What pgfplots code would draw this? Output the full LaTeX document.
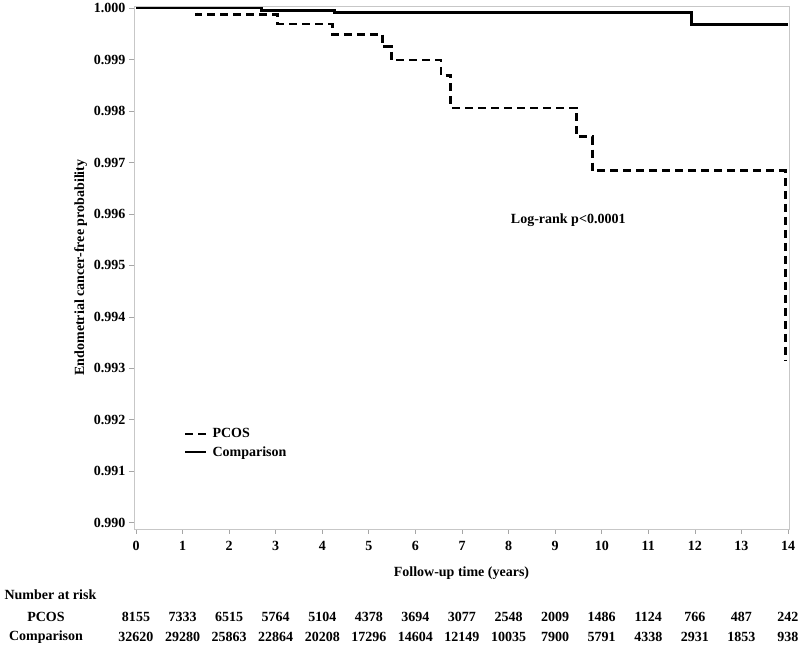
\documentclass[border=0pt]{standalone}
\usepackage{fontspec}
\setmainfont{Liberation Serif}
\usepackage{pgfplots}
\pgfplotsset{compat=1.18}
\begin{document}
\begin{tikzpicture}[font=\fontsize{14}{16}\selectfont\bfseries]
\useasboundingbox (-134pt,-118pt) rectangle (666pt,529pt);
\begin{axis}[at={(0pt,0pt)}, anchor=south west, scale only axis,
  width=655pt, height=523pt,
  xmin=-0.043, xmax=14.02, ymin=0.98988, ymax=1.00004,
  xtick={0,1,2,3,4,5,6,7,8,9,10,11,12,13,14},
  ytick={0.990,0.991,0.992,0.993,0.994,0.995,0.996,0.997,0.998,0.999,1.000},
  axis line style={draw=black!22, line width=0.8pt},
  tick style={draw=black!35, line width=0.8pt},
  tick align=outside, major tick length=5pt,
  xtick pos=bottom, ytick pos=left,
  scaled y ticks=false, scaled x ticks=false,
  yticklabel style={/pgf/number format/.cd, fixed, fixed zerofill, precision=3, assume math mode=true},
  xticklabel style={/pgf/number format/assume math mode=true, yshift=-4pt},
  xlabel={Follow-up time (years)},
  xlabel style={yshift=-9pt},
  ylabel={Endometrial cancer-free probability},
  legend style={draw=none, fill=none, at={(axis cs:1.02,0.99155)}, anchor=west, inner xsep=0pt, row sep=3pt,
    font=\fontsize{14}{16}\selectfont\bfseries},
  legend cell align=left,
  legend image code/.code={\draw[#1] (0pt,0pt) -- (21pt,0pt);},
  legend style={nodes={inner xsep=5pt}},
]
\addplot[const plot, black, line width=2.8pt, dash pattern=on 8pt off 5pt] coordinates {
 (0,1.0) (1.30,0.99987) (3.04,0.99969) (4.22,0.99949) (5.29,0.99925) (5.48,0.99899)
 (6.55,0.99869) (6.76,0.99806) (9.46,0.99750) (9.80,0.99684) (13.94,0.99314)
};
\addlegendentry{PCOS}
\addplot[const plot, black, line width=2.8pt] coordinates {
 (0,1.0) (2.70,0.99996) (4.26,0.99992) (11.92,0.99968) (14.0,0.99968)
};
\addlegendentry{Comparison}
\node at (axis cs:9.28,0.99588) {Log-rank p<0.0001};
\end{axis}
\node[anchor=west] at (-133pt,-66pt) {Number at risk};
\node at (-88pt,-88pt) {PCOS};
\node at (-88pt,-108pt) {Comparison};
\foreach \n [count=\i from 0] in {8155,7333,6515,5764,5104,4378,3694,3077,2548,2009,1486,1124,766,487,242}
  \node at ({2pt+\i*46.57pt},-88pt) {\n};
\foreach \n [count=\i from 0] in {32620,29280,25863,22864,20208,17296,14604,12149,10035,7900,5791,4338,2931,1853,938}
  \node at ({2pt+\i*46.57pt},-108pt) {\n};
\end{tikzpicture}
\end{document}
